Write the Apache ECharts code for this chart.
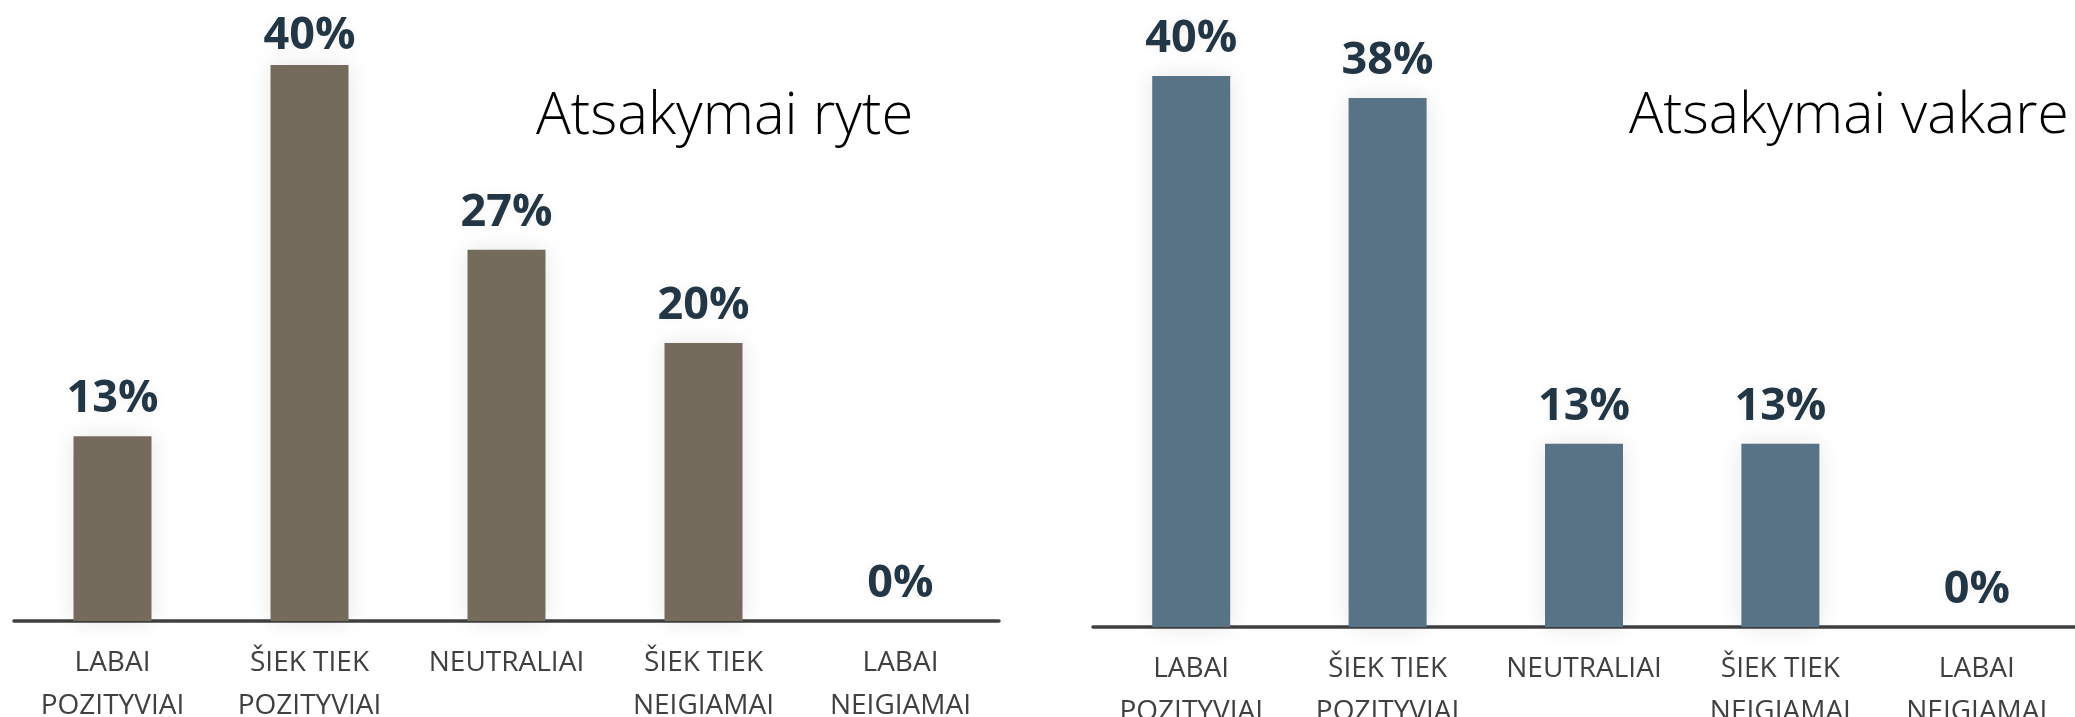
<!DOCTYPE html>
<html>
<head>
<meta charset="utf-8">
<script src="https://cdn.jsdelivr.net/npm/echarts@6/dist/echarts.min.js"></script>
<style>
html,body{margin:0;padding:0;background:#fff;}
#c{width:2075px;height:717px;}
</style>
</head>
<body>
<div id="c"></div>
<script>
const categories = ['LABAI\nPOZITYVIAI', 'ŠIEK TIEK\nPOZITYVIAI', 'NEUTRALIAI', 'ŠIEK TIEK\nNEIGIAMAI', 'LABAI\nNEIGIAMAI'];
const morningValues = [13.3, 40, 26.7, 20, 0];
const eveningValues = [40, 38.4, 13.3, 13.3, 0];
const morningTitle = 'Atsakymai ryte';
const eveningTitle = 'Atsakymai vakare';

const chart = echarts.init(document.getElementById('c'), null, {renderer: 'canvas'});
const FONT = '"Open Sans", "Liberation Sans", sans-serif';

function xAxisFor(idx) {
  return {
    type: 'category', gridIndex: idx, data: categories,
    axisLine: {show: true, lineStyle: {color: '#404040', width: 3.5}},
    axisTick: {show: false},
    axisLabel: {interval: 0, color: '#404040', fontFamily: FONT, fontSize: 28, lineHeight: 43, margin: 21}
  };
}
function yAxisFor(idx) {
  return {type: 'value', gridIndex: idx, min: 0, max: 40, show: false, splitLine: {show: false}};
}
function seriesFor(idx, values, color, tightIndex) {
  const labelStyle = {
    show: true, position: 'top', distance: 14,
    formatter: p => Math.round(p.value) + '%',
    color: '#223645', fontFamily: FONT, fontWeight: 'bold', fontSize: 45,
    textShadowBlur: 12, textShadowColor: 'rgba(0,0,0,0.06)'
  };
  return {
    type: 'bar', xAxisIndex: idx, yAxisIndex: idx, barWidth: 78,
    data: values.map((v, i) => i === tightIndex ? {value: v, label: {distance: 6}} : v),
    itemStyle: {color: color, shadowBlur: 22, shadowColor: 'rgba(0,0,0,0.10)'},
    label: labelStyle
  };
}

chart.setOption({
  animation: false,
  backgroundColor: '#ffffff',
  title: [
    {text: morningTitle, left: 531, top: 83, textStyle: {fontFamily: FONT, fontWeight: 300, fontSize: 58, color: '#000'}},
    {text: eveningTitle, left: 1624, top: 83, textStyle: {fontFamily: FONT, fontWeight: 300, fontSize: 57, color: '#000'}}
  ],
  grid: [
    {left: 14, width: 985, top: 65, bottom: 96, outerBoundsMode: 'none', containLabel: false},
    {left: 1093, right: 0, top: 76, bottom: 90, outerBoundsMode: 'none', containLabel: false}
  ],
  xAxis: [xAxisFor(0), xAxisFor(1)],
  yAxis: [yAxisFor(0), yAxisFor(1)],
  series: [seriesFor(0, morningValues, '#756b5c', 1), seriesFor(1, eveningValues, '#587385', -1)]
});
</script>
</body>
</html>
